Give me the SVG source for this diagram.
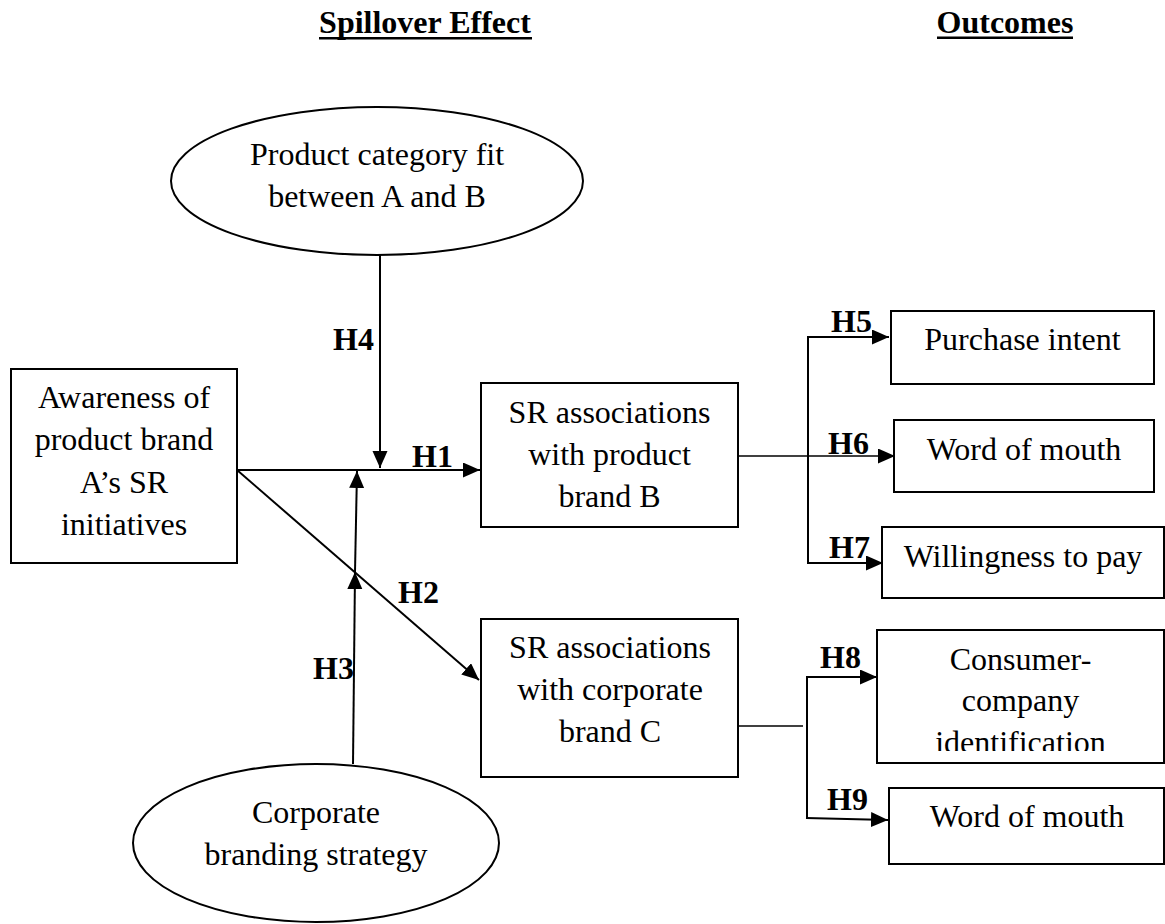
<svg xmlns="http://www.w3.org/2000/svg" width="1165" height="924" viewBox="0 0 1165 924">
<style>
text{font-family:"Liberation Serif","Times New Roman",serif;font-size:32px;fill:#000;}
.c{text-anchor:middle;}
.b{font-weight:bold;}
.box{fill:#fff;stroke:#000;stroke-width:2;}
.ln{fill:none;stroke:#000;stroke-width:2;}
.thin{fill:none;stroke:#000;stroke-width:1.6;}
</style>
<defs>
<marker id="ah" markerUnits="userSpaceOnUse" markerWidth="18" markerHeight="16" refX="17" refY="7.5" orient="auto">
<path d="M0,0 L17,7.5 L0,15 z" fill="#000"/>
</marker>
<clipPath id="clipCC"><rect x="877" y="630" width="288" height="121"/></clipPath>
</defs>
<rect width="1165" height="924" fill="#fff"/>

<g id="titles">
<text class="c b" x="425" y="33">Spillover Effect</text>
<rect x="319" y="37" width="213" height="2.5"/>
<text class="c b" x="1005" y="33">Outcomes</text>
<rect x="937" y="36.5" width="136" height="2.5"/>
</g>

<g id="connectors">
<line class="ln" x1="380" y1="255" x2="380" y2="468" marker-end="url(#ah)"/>
<line class="ln" x1="237" y1="470" x2="480" y2="470" marker-end="url(#ah)"/>
<line class="ln" x1="237" y1="470" x2="479" y2="680" marker-end="url(#ah)"/>
<line class="ln" x1="353" y1="764" x2="355" y2="572" marker-end="url(#ah)"/>
<line class="ln" x1="355" y1="572" x2="357" y2="471" marker-end="url(#ah)"/>
<line class="thin" x1="738" y1="456" x2="895" y2="456" marker-end="url(#ah)"/>
<line class="ln" x1="808" y1="337" x2="808" y2="563"/>
<line class="ln" x1="807" y1="337" x2="889" y2="337" marker-end="url(#ah)"/>
<line class="ln" x1="807" y1="563" x2="883" y2="563" marker-end="url(#ah)"/>
<line class="thin" x1="738" y1="726" x2="803" y2="726"/>
<line class="ln" x1="807" y1="677" x2="807" y2="818"/>
<line class="ln" x1="806" y1="677" x2="877" y2="677" marker-end="url(#ah)"/>
<line class="ln" x1="806" y1="818" x2="888" y2="820" marker-end="url(#ah)"/>
<text class="b" x="333" y="350">H4</text>
<text class="b" x="412" y="467">H1</text>
<text class="b" x="398" y="603">H2</text>
<text class="b" x="313" y="679">H3</text>
<text class="b" x="831" y="332">H5</text>
<text class="b" x="828" y="454">H6</text>
<text class="b" x="829" y="558">H7</text>
<text class="b" x="820" y="668">H8</text>
<text class="b" x="827" y="810">H9</text>
</g>

<g id="fit">
<ellipse class="box" cx="377" cy="181" rx="206" ry="74"/>
<text class="c" x="377" y="165">Product category fit</text>
<text class="c" x="377" y="207">between A and B</text>
</g>

<g id="awareness">
<rect class="box" x="11" y="369" width="226" height="194"/>
<text class="c" x="124" y="408">Awareness of</text>
<text class="c" x="124" y="450">product brand</text>
<text class="c" x="124" y="493">A’s SR</text>
<text class="c" x="124" y="535">initiatives</text>
</g>

<g id="srProduct">
<rect class="box" x="481" y="383" width="257" height="144"/>
<text class="c" x="609.5" y="423">SR associations</text>
<text class="c" x="609.5" y="465">with product</text>
<text class="c" x="609.5" y="507">brand B</text>
</g>

<g id="srCorporate">
<rect class="box" x="481" y="619" width="257" height="158"/>
<text class="c" x="610" y="658">SR associations</text>
<text class="c" x="610" y="700">with corporate</text>
<text class="c" x="610" y="742">brand C</text>
</g>

<g id="corpStrategy">
<ellipse class="box" cx="316" cy="843" rx="183" ry="79"/>
<text class="c" x="316" y="823">Corporate</text>
<text class="c" x="316" y="865">branding strategy</text>
</g>

<g id="purchase">
<rect class="box" x="891" y="311" width="263" height="73"/>
<text class="c" x="1022.5" y="350">Purchase intent</text>
</g>

<g id="wom1">
<rect class="box" x="894" y="420" width="260" height="72"/>
<text class="c" x="1024" y="460">Word of mouth</text>
</g>

<g id="wtp">
<rect class="box" x="882" y="527" width="282" height="71"/>
<text class="c" x="1023" y="567">Willingness to pay</text>
</g>

<g id="identification">
<rect class="box" x="877" y="630" width="287" height="133"/>
<text class="c" x="1020.5" y="670">Consumer-</text>
<text class="c" x="1020.5" y="711">company</text>
<text class="c" x="1020.5" y="753" clip-path="url(#clipCC)">identification</text>
</g>

<g id="wom2">
<rect class="box" x="889" y="788" width="275" height="76"/>
<text class="c" x="1027" y="827">Word of mouth</text>
</g>
</svg>
